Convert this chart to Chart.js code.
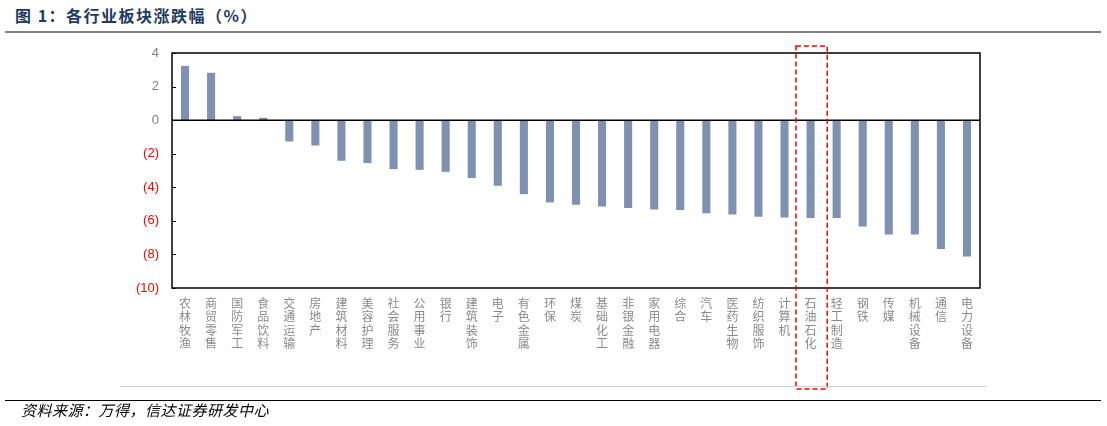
<!DOCTYPE html>
<html lang="zh">
<head>
  <meta charset="UTF-8">
  <title>各行业板块涨跌幅</title>
  <script src="https://cdn.jsdelivr.net/npm/chart.js"></script>
  <style>
    body { margin: 0; background: #fff; width: 1107px; height: 426px; position: relative; overflow: hidden; font-family: "Noto Sans CJK SC", sans-serif; }
    .title { position: absolute; left: 15px; top: 3px; font-size: 16px; font-weight: bold; color: #1f3a5f; letter-spacing: 1.5px; }
    .rule-top { position: absolute; left: 5px; right: 6px; top: 31px; height: 2px; background: #808080; }
    .rule-gray { position: absolute; left: 120px; width: 866px; top: 386px; height: 1px; background: #d0d0d0; }
    .rule-bottom { position: absolute; left: 5px; right: 6px; top: 400px; height: 1px; background: #000; }
    .source { position: absolute; left: 21px; top: 401px; font-size: 15px; line-height: 17px; font-style: italic; color: #000; letter-spacing: 0.5px; }
    .chart-box { position: absolute; left: 0; top: 0; width: 1107px; height: 426px; }
  </style>
</head>
<body>
  <div class="title">图 1：各行业板块涨跌幅（%）</div>
  <div class="rule-top"></div>
  <div class="chart-box"><canvas id="sectorChart"></canvas></div>
  <div class="rule-gray"></div>
  <div class="rule-bottom"></div>
  <div class="source">资料来源：万得，信达证券研发中心</div>

  <script>
    // sector names and % change
    const sectors = ['农林牧渔', '商贸零售', '国防军工', '食品饮料', '交通运输', '房地产', '建筑材料', '美容护理',
      '社会服务', '公用事业', '银行', '建筑装饰', '电子', '有色金属', '环保', '煤炭', '基础化工', '非银金融',
      '家用电器', '综合', '汽车', '医药生物', '纺织服饰', '计算机', '石油石化', '轻工制造', '钢铁', '传媒',
      '机械设备', '通信', '电力设备'];
    const changes = [3.23, 2.82, 0.24, 0.14, -1.27, -1.51, -2.42, -2.56, -2.92, -2.96, -3.08, -3.45, -3.91,
      -4.41, -4.90, -5.04, -5.14, -5.24, -5.32, -5.36, -5.54, -5.62, -5.76, -5.80, -5.83, -5.83, -6.33, -6.81,
      -6.81, -7.68, -8.12];
    const yTicks = [4, 2, 0, -2, -4, -6, -8, -10];
    const highlight = '石油石化';

    // box, zero line, inward ticks, red dashed highlight
    const decor = {
      id: 'decor',
      afterDraw(chart) {
        const { ctx, chartArea: a, scales: { x, y } } = chart;
        ctx.save();
        ctx.strokeStyle = '#000';
        ctx.lineWidth = 1.5;
        ctx.strokeRect(a.left, a.top, a.right - a.left, a.bottom - a.top);
        const y0 = y.getPixelForValue(0);
        ctx.beginPath();
        ctx.moveTo(a.left, y0);
        ctx.lineTo(a.right, y0);
        ctx.stroke();
        ctx.lineWidth = 1;
        yTicks.forEach(v => {
          const py = Math.round(y.getPixelForValue(v)) + 0.5;
          ctx.beginPath();
          ctx.moveTo(a.left, py);
          ctx.lineTo(a.left + 4, py);
          ctx.stroke();
        });
        const idx = sectors.indexOf(highlight);
        const cx = x.getPixelForValue(idx);
        const half = (a.right - a.left) / sectors.length * 0.6;
        ctx.strokeStyle = '#ff0000';
        ctx.lineWidth = 1.5;
        ctx.setLineDash([5, 3]);
        ctx.strokeRect(cx - half + 1, a.top - 7, half * 2, 343);
        ctx.restore();
      }
    };

    new Chart(document.getElementById('sectorChart'), {
      type: 'bar',
      data: {
        labels: sectors.map(s => s.split('')),
        datasets: [{
          data: changes,
          backgroundColor: '#7f91b0',
          categoryPercentage: 1,
          barPercentage: 0.31
        }]
      },
      options: {
        responsive: true,
        maintainAspectRatio: false,
        animation: false,
        layout: { padding: { left: 112, right: 127, top: 53, bottom: 38 } },
        plugins: { legend: { display: false }, tooltip: { enabled: false } },
        scales: {
          x: {
            grid: { display: false, drawTicks: false },
            border: { display: false },
            ticks: {
              maxRotation: 0, minRotation: 0, autoSkip: false, padding: 9,
              color: '#8a8a8a',
              font: { family: '"Noto Sans CJK SC"', size: 12, lineHeight: 1.1 }
            },
            afterFit(s) { s.height = 100; }
          },
          y: {
            min: -10, max: 4,
            afterBuildTicks(s) { s.ticks = yTicks.map(v => ({ value: v })); },
            grid: { display: false, drawTicks: false },
            border: { display: false },
            ticks: {
              padding: 13,
              font: { family: '"Liberation Sans", Arial', size: 13 },
              color: c => c.tick.value < 0 ? '#ff0000' : '#808080',
              callback: v => v < 0 ? '(' + Math.abs(v) + ')' : String(v)
            },
            afterFit(s) { s.width = 60; }
          }
        }
      },
      plugins: [decor]
    });
  </script>
</body>
</html>
